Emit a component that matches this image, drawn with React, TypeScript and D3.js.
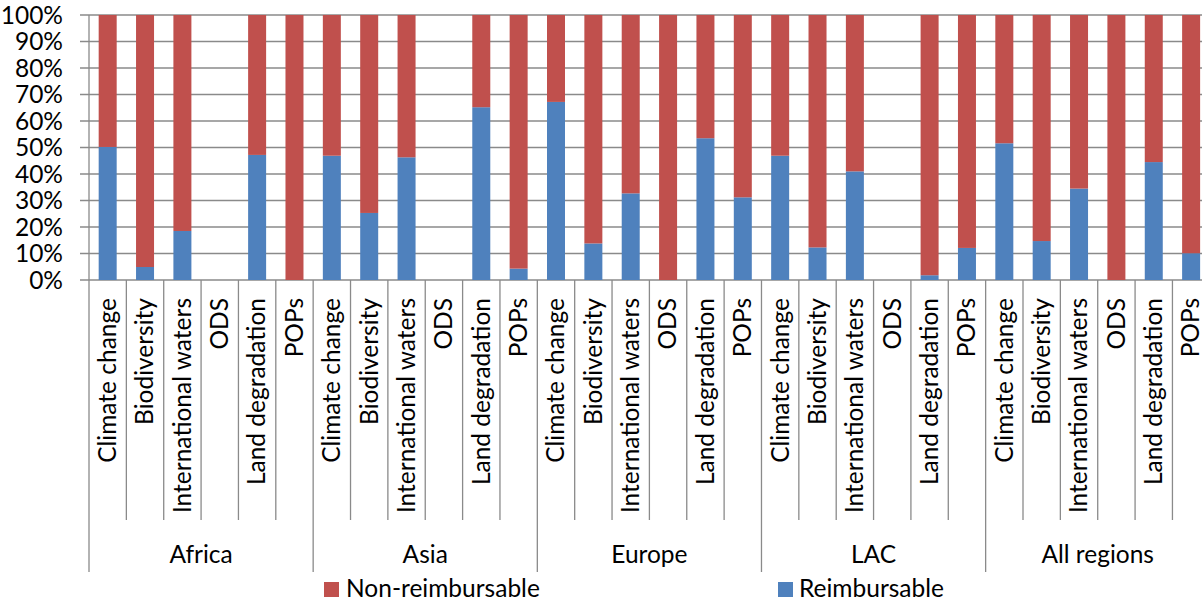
import React from "react";
import * as d3 from "d3";

const regions = ["Africa", "Asia", "Europe", "LAC", "All regions"];
const focalAreas = [
  "Climate change",
  "Biodiversity",
  "International waters",
  "ODS",
  "Land degradation",
  "POPs",
];
// Reimbursable share (%) per region, in focal-area order
const reimbursable = [
  [50.2, 4.9, 18.5, 0, 47.2, 0],
  [46.9, 25.3, 46.3, 0, 65.2, 4.3],
  [67.2, 13.8, 32.7, 0, 53.5, 31.2],
  [46.9, 12.3, 41.0, 0, 1.8, 12.1],
  [51.6, 14.7, 34.5, 0, 44.5, 10.1],
];
// Non-reimbursable share (%) per region
const nonReimbursable = [
  [49.8, 95.1, 81.5, 0, 52.8, 100],
  [53.1, 74.7, 53.7, 0, 34.8, 95.7],
  [32.8, 86.2, 67.3, 100, 46.5, 68.8],
  [53.1, 87.7, 59.0, 0, 98.2, 87.9],
  [48.4, 85.3, 65.5, 100, 55.5, 89.9],
];
const yTicks = [0, 10, 20, 30, 40, 50, 60, 70, 80, 90, 100];
const seriesNames = ["Reimbursable", "Non-reimbursable"];
const seriesColors = ["#4F81BD", "#C0504D"];

const W = 1202;
const H = 602;
const FONT = "Lato, 'Open Sans', sans-serif";

export default function App() {
  const left = 89;
  const band = 37.36;
  const top = 15;
  const bottom = 280;

  const rows = regions.flatMap((r, ri) =>
    focalAreas.map((f, fi) => ({
      key: `${ri}-${fi}`,
      region: r,
      area: f,
      Reimbursable: reimbursable[ri][fi],
      "Non-reimbursable": nonReimbursable[ri][fi],
    }))
  );

  const x = d3
    .scaleBand<string>()
    .domain(rows.map((d) => d.key))
    .range([left, left + band * rows.length])
    .paddingInner(0)
    .paddingOuter(0);
  const xr = d3
    .scaleBand<string>()
    .domain(regions)
    .range([left, left + band * rows.length]);
  const y = d3.scaleLinear().domain([0, 100]).range([bottom, top]);

  const stacked = d3.stack<any>().keys(seriesNames)(rows);
  const barW = 18;
  const gridColor = "#8A8A8A";

  return (
    <svg
      width={W}
      height={H}
      style={{ position: "absolute", left: 0, top: 0, overflow: "hidden", background: "#fff" }}
      fontFamily={FONT}
    >
      {/* gridlines */}
      {yTicks.map((t) => (
        <line
          key={"g" + t}
          x1={left - 9}
          x2={W + 20}
          y1={y(t)}
          y2={y(t)}
          stroke={gridColor}
          strokeWidth={1.3}
        />
      ))}
      {yTicks.map((t) => (
        <text
          key={"t" + t}
          x={63}
          y={y(t)}
          dy="0.36em"
          textAnchor="end"
          fontSize={24.5}
          fill="#000"
        >
          {t}%
        </text>
      ))}
      {/* vertical axis */}
      <line x1={left} x2={left} y1={top} y2={572} stroke={gridColor} strokeWidth={1.3} />
      {/* bars */}
      {stacked.map((s, si) =>
        s.map((d) => {
          const h = y(d[0]) - y(d[1]);
          if (h <= 0) return null;
          return (
            <rect
              key={si + "-" + d.data.key}
              x={(x(d.data.key) as number) + x.bandwidth() / 2 - barW / 2}
              y={y(d[1])}
              width={barW}
              height={h}
              fill={seriesColors[si]}
            />
          );
        })
      )}
      {/* category separators */}
      {rows.map((d, i) => {
        const xx = (x(d.key) as number) + x.bandwidth();
        const isGroup = (i + 1) % focalAreas.length === 0;
        return (
          <line
            key={"s" + d.key}
            x1={xx}
            x2={xx}
            y1={bottom}
            y2={isGroup ? 572 : 520}
            stroke={gridColor}
            strokeWidth={1.3}
          />
        );
      })}
      {/* category labels */}
      {rows.map((d) => {
        const cx = (x(d.key) as number) + x.bandwidth() / 2;
        return (
          <text
            key={"c" + d.key}
            transform={`translate(${cx},298) rotate(-90)`}
            textAnchor="end"
            dy="0.34em"
            fontSize={24.5}
            fill="#000"
          >
            {d.area}
          </text>
        );
      })}
      {/* region labels */}
      {regions.map((r) => (
        <text
          key={"r" + r}
          x={(xr(r) as number) + xr.bandwidth() / 2}
          y={563}
          textAnchor="middle"
          fontSize={24.5}
          fill="#000"
        >
          {r}
        </text>
      ))}
      {/* legend */}
      <rect x={324} y={582} width={15} height={15} fill={seriesColors[1]} />
      <text x={346} y={597} fontSize={24.5} fill="#000">
        {seriesNames[1]}
      </text>
      <rect x={778} y={582} width={15} height={15} fill={seriesColors[0]} />
      <text x={799} y={597} fontSize={24.5} fill="#000">
        {seriesNames[0]}
      </text>
    </svg>
  );
}
